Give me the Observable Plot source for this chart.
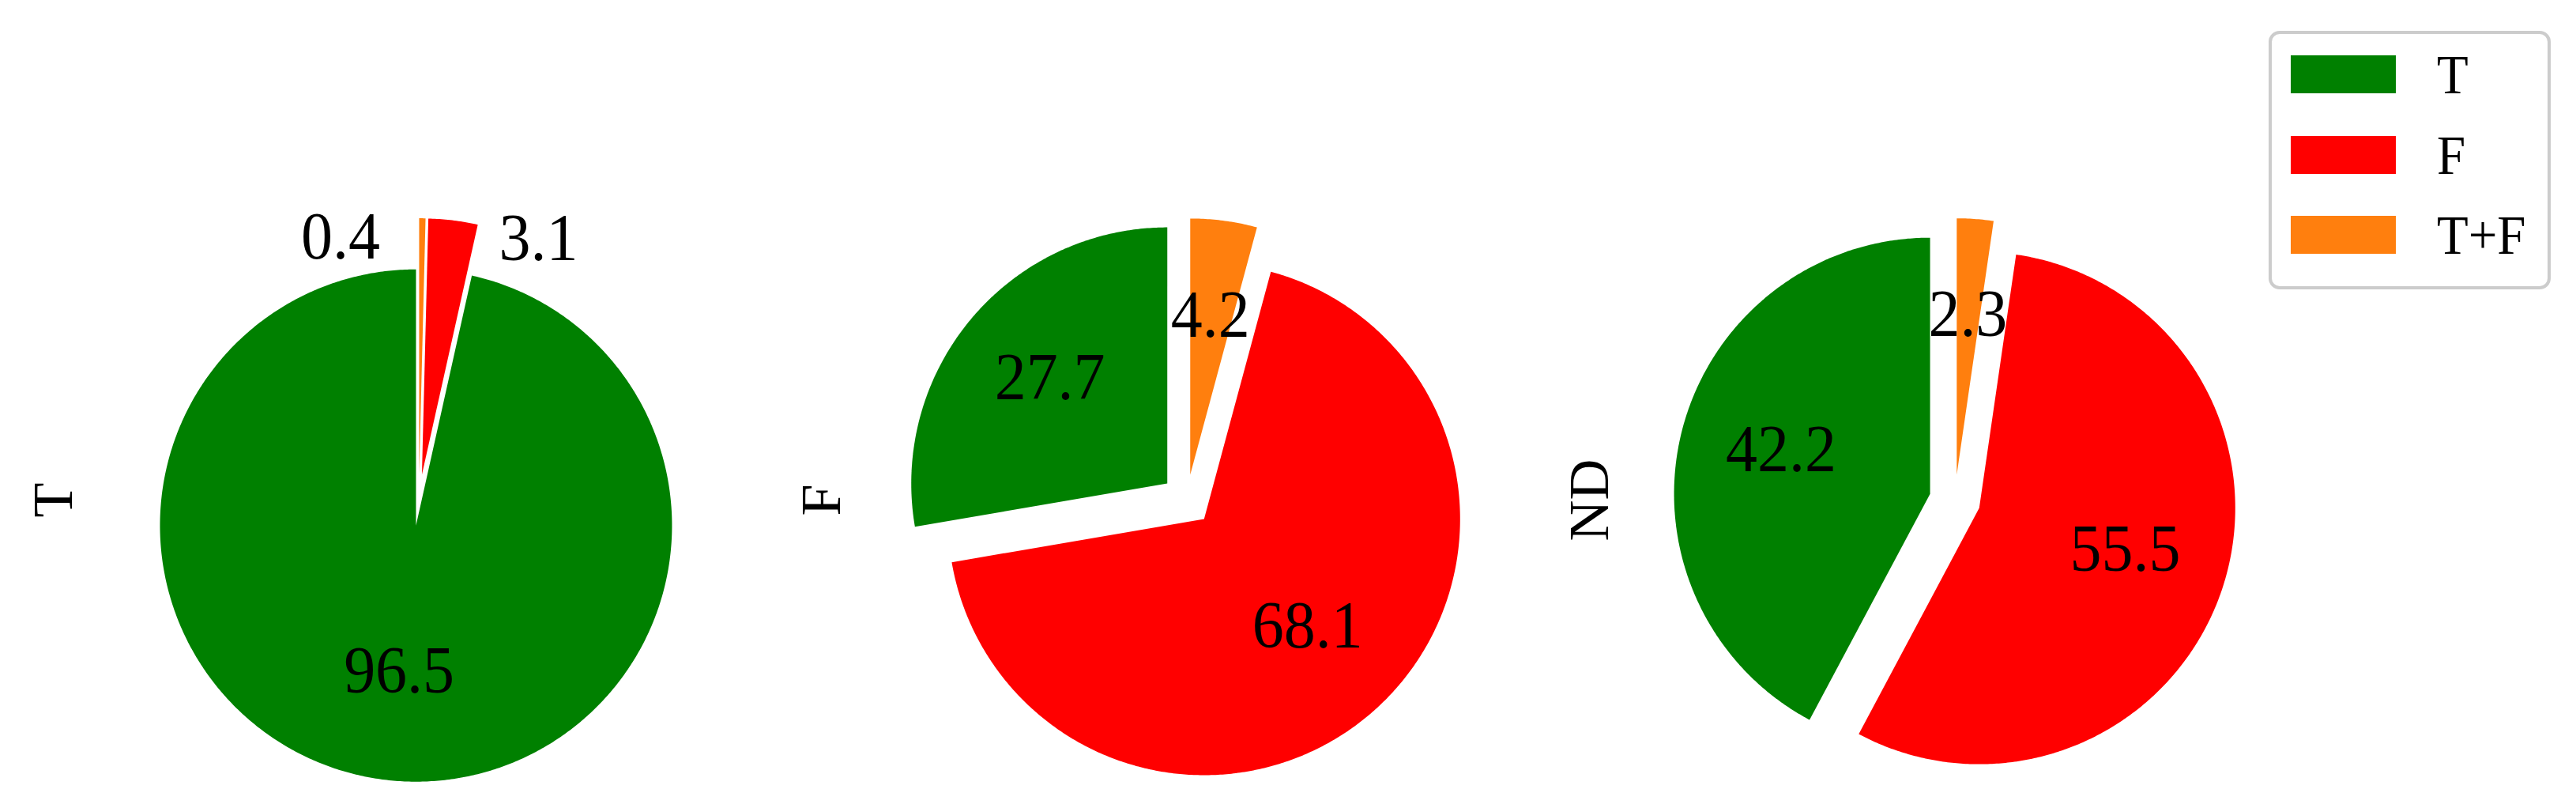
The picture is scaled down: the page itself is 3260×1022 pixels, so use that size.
<!DOCTYPE html>
<html>
<head>
<meta charset="utf-8">
<script src="https://cdn.jsdelivr.net/npm/d3@7"></script>
<script src="https://cdn.jsdelivr.net/npm/@observablehq/plot@0.6"></script>
<style>
  body { margin: 0; background: #fff; }
  #wrap { position: relative; width: 3260px; height: 1022px; font-family: "Liberation Serif", serif; }
  #legend { position: absolute; left: 2871px; top: 39px; width: 357px; height: 327px; box-sizing: border-box;
            border: 4px solid #cccccc; border-radius: 14px; background: #fff; }
  .sw { position: absolute; left: 24px; width: 133px; height: 48px; }
  .lab { position: absolute; left: 209px; height: 48px; font-size: 65px; line-height: 48px; color: #000;
         white-space: nowrap; transform: scaleY(1.08); }
</style>
</head>
<body>
<div id="wrap"><div id="chart"></div><div id="legend"></div></div>
<script>
// ---- data ----
const pies = ["T", "F", "ND"];
const categories = ["T", "F", "T+F"];
const colors = ["#008000", "#ff0000", "#ff7f0e"];
const valuesT = [96.5, 3.1, 0.4];
const valuesF = [27.7, 68.1, 4.2];
const valuesND = [42.2, 55.5, 2.3];
const seriesValues = [valuesT, valuesF, valuesND];

// ---- pie layout (matplotlib-like: startangle 90, counterclockwise, explode 0.1) ----
const explode = 0.1, startAngle = 90, pctDistance = 0.6, spacing = 3;
// labels of tiny slices in the first pie are set outside, shifted sideways (data units)
const outsideShift = { "T": { "F": 0.345, "T+F": -0.318 } };

const wedgePts = [];
const labels = [];
pies.forEach((pie, i) => {
  const vals = seriesValues[i];
  const total = d3.sum(vals);
  const cx0 = i * spacing;
  let cum = 0;
  vals.forEach((v, j) => {
    const t1 = startAngle + 360 * cum / total;
    cum += v;
    const t2 = startAngle + 360 * cum / total;
    const tm = (t1 + t2) / 2 * Math.PI / 180;
    const cx = cx0 + explode * Math.cos(tm), cy = explode * Math.sin(tm);
    const id = pie + "|" + categories[j];
    wedgePts.push({ id, cat: categories[j], x: cx, y: cy });
    const n = Math.max(4, Math.ceil((t2 - t1) * 2));
    for (let k = 0; k <= n; k++) {
      const a = (t1 + (t2 - t1) * k / n) * Math.PI / 180;
      wedgePts.push({ id, cat: categories[j], x: cx + Math.cos(a), y: cy + Math.sin(a) });
    }
    const shift = outsideShift[pie] && outsideShift[pie][categories[j]];
    if (shift !== undefined) {
      labels.push({ x: cx0 + Math.cos(tm) + shift, y: Math.sin(tm), text: v.toFixed(1) });
    } else {
      labels.push({ x: cx + pctDistance * Math.cos(tm), y: cy + pctDistance * Math.sin(tm), text: v.toFixed(1) });
    }
  });
});
const names = pies.map((p, i) => ({ x: i * spacing - 1.427, y: 0, text: p }));

const chart = Plot.plot({
  width: 3260, height: 1022,
  marginLeft: 43.5, marginRight: 300.5, marginTop: 0, marginBottom: 0,
  x: { domain: [-1.5, 7.5], axis: null },
  y: { domain: [-1.2037, 1.9506], axis: null },
  color: { domain: categories, range: colors },
  style: { background: "white" },
  marks: [
    Plot.line(wedgePts, { x: "x", y: "y", z: "id", fill: "cat", stroke: "none", curve: "linear" }),
    Plot.text(labels, { x: "x", y: "y", text: "text", fontSize: 80, fontFamily: "Liberation Serif", fill: "black", dy: -9 }),
    Plot.text(names, { x: "x", y: "y", text: "text", rotate: -90, fontSize: 72, fontFamily: "Liberation Serif", fill: "black" })
  ]
});

// slightly taller glyphs, as in the reference's serif face
chart.querySelectorAll("text").forEach(t => {
  const g = t.closest("g[font-size]");
  const fs = g ? g.getAttribute("font-size") : "";
  if (fs !== "80") return;
  const tr = t.getAttribute("transform") || "";
  t.setAttribute("transform", tr + " scale(1,1.07)");
});
document.getElementById("chart").appendChild(chart);

// legend
const legend = document.getElementById("legend");
const rowTops = [27, 129, 230];
categories.forEach((c, i) => {
  const sw = document.createElement("div");
  sw.className = "sw"; sw.style.top = rowTops[i] + "px"; sw.style.background = colors[i];
  legend.appendChild(sw);
  const lb = document.createElement("div");
  lb.className = "lab"; lb.style.top = rowTops[i] + "px"; lb.textContent = c;
  legend.appendChild(lb);
});
</script>
</body>
</html>
